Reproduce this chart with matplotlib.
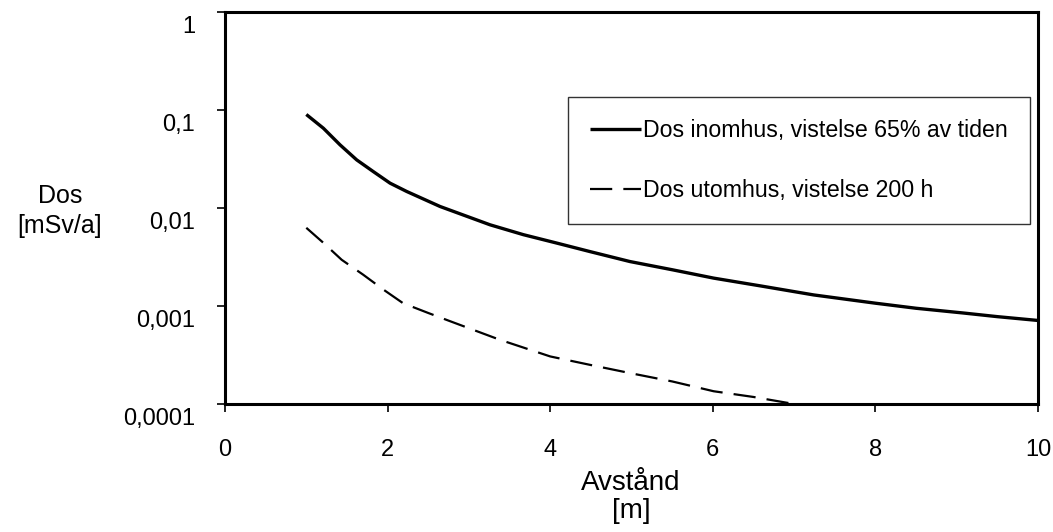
import matplotlib
matplotlib.use("Agg")
import matplotlib.pyplot as plt
from matplotlib.ticker import FixedLocator, FixedFormatter, NullLocator
from matplotlib.transforms import ScaledTranslation

plt.rcParams['font.family'] = ['Liberation Sans', 'DejaVu Sans']

# Data
x_inne = [1.0, 1.21, 1.415, 1.62, 1.825, 2.03, 2.235, 2.645, 3.26, 3.67, 4.08, 4.49, 4.98,
          5.5, 6.01, 6.6, 7.24, 8.0, 8.5, 9.08, 9.5, 10.0]
y_inne = [0.0905, 0.0655, 0.0443, 0.0311, 0.0236, 0.018, 0.0148, 0.0104, 0.00676, 0.00536,
          0.0044, 0.0036, 0.00285, 0.00235, 0.00193, 0.0016, 0.0013, 0.00107, 0.00095,
          0.00085, 0.00078, 0.000713]
x_ute = [1.0, 1.2, 1.435, 1.7, 1.95, 2.19, 2.5, 2.77, 3.38, 4.0, 4.5, 4.98, 5.5, 6.01, 6.5, 7.0, 7.2]
y_ute = [0.0063, 0.0045, 0.00297, 0.00209, 0.00147, 0.00107, 0.00085, 0.0007, 0.000453, 0.000306,
         0.00025, 0.000207, 0.00017, 0.000135, 0.000118, 0.0001, 0.000093]

label_inne = "Dos inomhus, vistelse 65% av tiden"
label_ute = "Dos utomhus, vistelse 200 h"
y_ticks = [1e-4, 1e-3, 1e-2, 1e-1, 1]
y_ticklabels = ["0,0001", "0,001", "0,01", "0,1", "1"]
x_ticks = [0, 2, 4, 6, 8, 10]

fig = plt.figure(figsize=(10.53, 5.32), dpi=100)
ax = fig.add_axes([225/1053, 1-404/532, (1038-225)/1053, (404-12.3)/532])

ax.plot(x_inne, y_inne, color='black', lw=2.4, solid_capstyle='butt', label=label_inne)
ax.plot(x_ute, y_ute, color='black', lw=1.6, dashes=(10, 5), label=label_ute)

ax.set_yscale('log')
ax.set_xlim(0, 10)
ax.set_ylim(1e-4, 1)
ax.yaxis.set_major_locator(FixedLocator(y_ticks))
ax.yaxis.set_major_formatter(FixedFormatter(y_ticklabels))
ax.yaxis.set_minor_locator(NullLocator())
ax.set_xticks(x_ticks)
ax.set_xticklabels([str(v) for v in x_ticks])

for s in ax.spines.values():
    s.set_linewidth(2.2)
ax.tick_params(axis='both', which='major', direction='out', length=5.5, width=1.2,
               labelsize=17, colors='black')
ax.tick_params(axis='y', pad=16)
ax.tick_params(axis='x', pad=20)

shift = ScaledTranslation(0, -12/100, fig.dpi_scale_trans)
for lab in ax.get_yticklabels():
    lab.set_transform(lab.get_transform() + shift)

fig.text(631/1053, 1-497/532, "Avstånd\n[m]", fontsize=20, ha='center', va='center',
         linespacing=1.15)
fig.text(60/1053, 1-211/532, "Dos\n[mSv/a]", fontsize=18, ha='center', va='center',
         linespacing=1.3)

leg = ax.legend(loc='upper left',
                bbox_to_anchor=((568-225)/(1038-225), 1-(97-12.3)/(404-12.3)),
                frameon=True, fancybox=False, edgecolor='black', fontsize=16.7,
                handlelength=2.2, handletextpad=0.1, labelspacing=1.6,
                borderpad=0.95, borderaxespad=0)
leg.get_frame().set_linewidth(1.0)

fig.savefig("out.png", dpi=100)
